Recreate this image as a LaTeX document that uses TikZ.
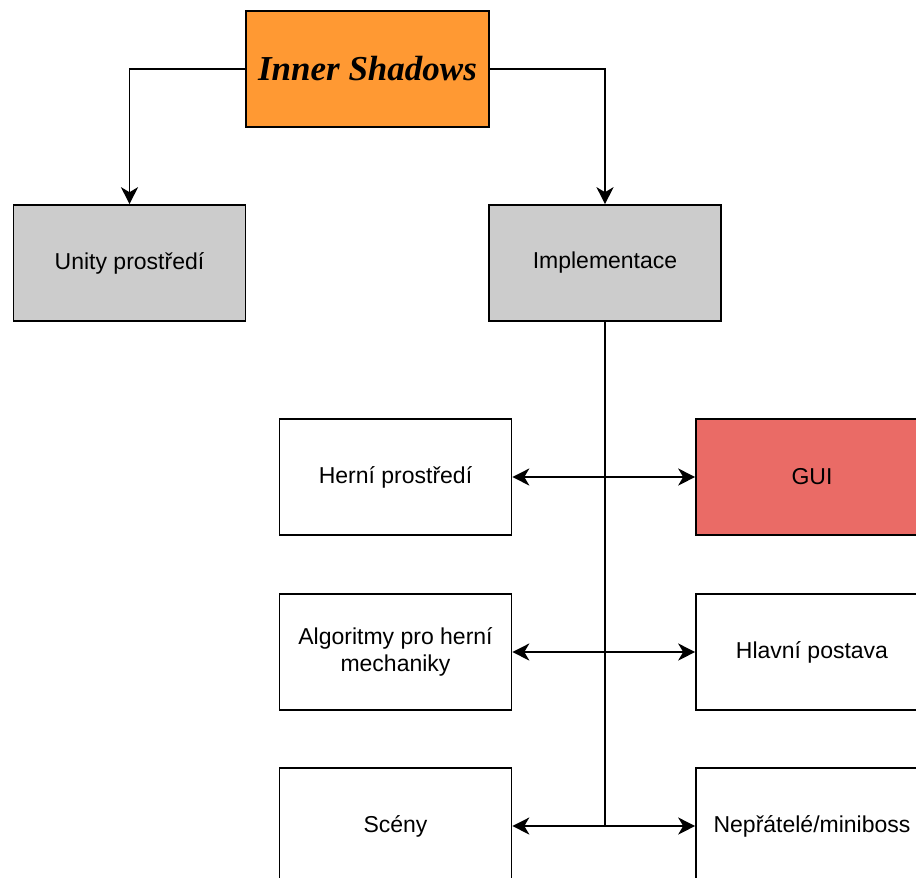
\documentclass[tikz,border=0pt]{standalone}
\usepackage{fontspec}
\setmainfont{Liberation Sans}
\newfontfamily\titlefont{Liberation Serif}
\usetikzlibrary{arrows.meta}
\definecolor{orangefill}{HTML}{FF9933}
\definecolor{grayfill}{HTML}{CCCCCC}
\definecolor{redfill}{HTML}{EA6B66}
\tikzset{
  box/.style={draw=black, line width=1.6pt, minimum width=232pt, minimum height=116pt, inner sep=0pt, align=center, font=\fontsize{23}{27}\selectfont},
  tip/.style={Stealth[length=17pt,width=17pt,inset=5pt]},
  conn/.style={line width=1.6pt, -{Stealth[length=17pt,width=17pt,inset=5pt]}},
  bidir/.style={line width=1.6pt, {Stealth[length=17pt,width=17pt,inset=5pt]}-{Stealth[length=17pt,width=17pt,inset=5pt]}},
  plain/.style={line width=1.6pt}
}
\begin{document}
\begin{tikzpicture}[x=1pt,y=-1pt]
\useasboundingbox (0,0) rectangle (916,878);
\clip (0,0) rectangle (916,878);
\node[box, fill=orangefill, minimum width=243pt, font=\titlefont\bfseries\itshape\fontsize{35}{40}\selectfont] (title) at (367.5,69) {Inner Shadows};
\node[box, fill=grayfill] (unity) at (129.5,263) {Unity prostředí};
\node[box, fill=grayfill] (impl) at (605,263) {Implementace};
\node[box, fill=white] (herni) at (395.5,477) {Herní prostředí};
\node[box, fill=redfill] (gui) at (812,477) {GUI};
\node[box, fill=white] (algo) at (395.5,652) {Algoritmy pro herní\\mechaniky};
\node[box, fill=white] (hlavni) at (812,652) {Hlavní postava};
\node[box, fill=white] (sceny) at (395.5,826) {Scény};
\node[box, fill=white] (nepr) at (812,826) {Nepřátelé/miniboss};
\coordinate (bottomj) at (605,826);
\draw[conn] (title.west) -| (unity.north);
\draw[conn] (title.east) -| (impl.north);
\draw[plain] (impl.south) -- (bottomj);
\draw[bidir] (herni.east) -- (gui.west);
\draw[bidir] (algo.east) -- (hlavni.west);
\draw[bidir] (sceny.east) -- (nepr.west);
\end{tikzpicture}
\end{document}
